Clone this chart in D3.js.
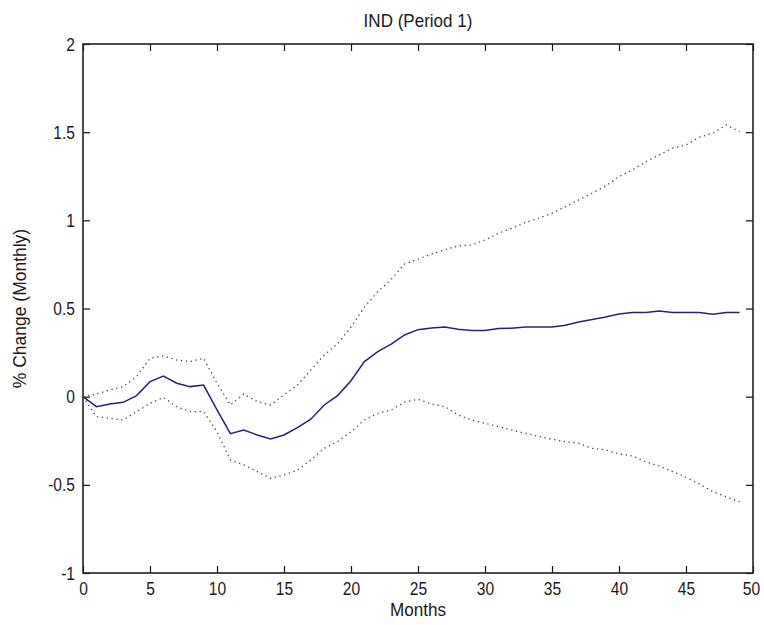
<!DOCTYPE html>
<html>
<head>
<meta charset="utf-8">
<script src="https://cdn.jsdelivr.net/npm/d3@7"></script>
<style>
  body { margin: 0; background: #fff; }
  svg text { font-family: "Liberation Sans", Arial, sans-serif; fill: #1a1a1a; }
</style>
</head>
<body>
<div id="chart"></div>
<script>
// months 0..49
const meses = d3.range(0, 50);

const resposta = [
  0, -0.057, -0.041, -0.032, 0.006, 0.085, 0.117, 0.076, 0.057, 0.066,
  -0.075, -0.21, -0.189, -0.217, -0.24, -0.217, -0.176, -0.128, -0.047, 0.006,
  0.09, 0.199, 0.255, 0.298, 0.35, 0.38, 0.39, 0.395, 0.382, 0.375,
  0.375, 0.386, 0.388, 0.395, 0.395, 0.395, 0.405, 0.424, 0.437, 0.452,
  0.469, 0.477, 0.477, 0.486, 0.477, 0.477, 0.477, 0.467, 0.477, 0.477
];

const limiteSup = [
  0, 0.015, 0.038, 0.057, 0.113, 0.218, 0.231, 0.208, 0.199, 0.218,
  0.076, -0.047, 0.015, -0.028, -0.047, 0.01, 0.066, 0.151, 0.236, 0.3,
  0.395, 0.508, 0.595, 0.665, 0.752, 0.78, 0.808, 0.834, 0.855, 0.86,
  0.889, 0.927, 0.955, 0.987, 1.012, 1.04, 1.078, 1.116, 1.154, 1.195,
  1.248, 1.286, 1.333, 1.371, 1.409, 1.428, 1.471, 1.494, 1.541, 1.503
];

const limiteInf = [
  0, -0.113, -0.123, -0.132, -0.085, -0.038, -0.004, -0.057, -0.085, -0.085,
  -0.199, -0.359, -0.387, -0.425, -0.463, -0.444, -0.416, -0.359, -0.293, -0.255,
  -0.199, -0.132, -0.094, -0.075, -0.031, -0.015, -0.042, -0.056, -0.104, -0.132,
  -0.151, -0.17, -0.189, -0.208, -0.225, -0.242, -0.255, -0.265, -0.293, -0.302,
  -0.325, -0.336, -0.369, -0.393, -0.425, -0.457, -0.495, -0.539, -0.567, -0.596
];

const ticksX = d3.range(0, 51, 5);
const ticksY = [-1, -0.5, 0, 0.5, 1, 1.5, 2];

const width = 764, height = 625;
const margin = { top: 44, right: 11, bottom: 52, left: 83 };

const svg = d3.select("#chart").append("svg")
  .attr("width", width).attr("height", height);

const x = d3.scaleLinear().domain([0, 50]).range([margin.left, width - margin.right]);
const y = d3.scaleLinear().domain([-1, 2]).range([height - margin.bottom, margin.top]);

// aperta os numeros na horizontal (fonte do matlab e mais estreita)
function estreitar(sel, fator) {
  sel.each(function () {
    const w = this.getComputedTextLength();
    d3.select(this).attr("textLength", w * fator).attr("lengthAdjust", "spacingAndGlyphs");
  });
}

// eixos estilo matlab: ticks para dentro nos quatro lados
svg.append("g")
  .attr("transform", `translate(0,${y(-1)})`)
  .call(d3.axisBottom(x).tickValues(ticksX).tickSizeInner(-7).tickSizeOuter(0).tickPadding(9))
  .call(g => g.select(".domain").remove())
  .selectAll("text").style("font-size", "19px").call(estreitar, 0.82)
  .filter(d => d === 50).attr("dx", -2);

svg.append("g")
  .attr("transform", `translate(0,${y(2)})`)
  .call(d3.axisTop(x).tickValues(ticksX).tickSizeInner(-7).tickSizeOuter(0).tickFormat(""))
  .call(g => g.select(".domain").remove());

svg.append("g")
  .attr("transform", `translate(${x(0)},0)`)
  .call(d3.axisLeft(y).tickValues(ticksY).tickFormat(d => String(d))
    .tickSizeInner(-7).tickSizeOuter(0).tickPadding(8))
  .call(g => g.select(".domain").remove())
  .selectAll("text").style("font-size", "19px").call(estreitar, 0.82);

svg.append("g")
  .attr("transform", `translate(${x(50)},0)`)
  .call(d3.axisRight(y).tickValues(ticksY).tickSizeInner(-7).tickSizeOuter(0).tickFormat(""))
  .call(g => g.select(".domain").remove());

svg.selectAll(".tick line").attr("stroke", "#111").attr("stroke-width", 1.2);

svg.append("rect")
  .attr("x", x(0)).attr("y", y(2))
  .attr("width", x(50) - x(0)).attr("height", y(-1) - y(2))
  .attr("fill", "none").attr("stroke", "#222").attr("stroke-width", 1.6);

const linha = d3.line().x((d, i) => x(meses[i])).y(d => y(d));

svg.append("path").datum(limiteSup)
  .attr("d", linha).attr("fill", "none")
  .attr("stroke", "#444").attr("stroke-width", 1.3).attr("stroke-dasharray", "1.3,3.6");

svg.append("path").datum(limiteInf)
  .attr("d", linha).attr("fill", "none")
  .attr("stroke", "#444").attr("stroke-width", 1.3).attr("stroke-dasharray", "1.3,3.6");

svg.append("path").datum(resposta)
  .attr("d", linha).attr("fill", "none")
  .attr("stroke", "#24247a").attr("stroke-width", 1.5);

svg.append("text")
  .attr("x", (x(0) + x(50)) / 2).attr("y", 27)
  .attr("text-anchor", "middle")
  .style("font-size", "18.5px")
  .text("IND (Period 1)")
  .call(estreitar, 0.92);

svg.append("text")
  .attr("x", (x(0) + x(50)) / 2).attr("y", 616)
  .attr("text-anchor", "middle")
  .style("font-size", "18px")
  .text("Months")
  .call(estreitar, 0.95);

svg.append("text")
  .attr("transform", `translate(26,${(y(-1) + y(2)) / 2}) rotate(-90)`)
  .attr("text-anchor", "middle")
  .style("font-size", "19px")
  .text("% Change (Monthly)")
  .call(estreitar, 0.92);
</script>
</body>
</html>
